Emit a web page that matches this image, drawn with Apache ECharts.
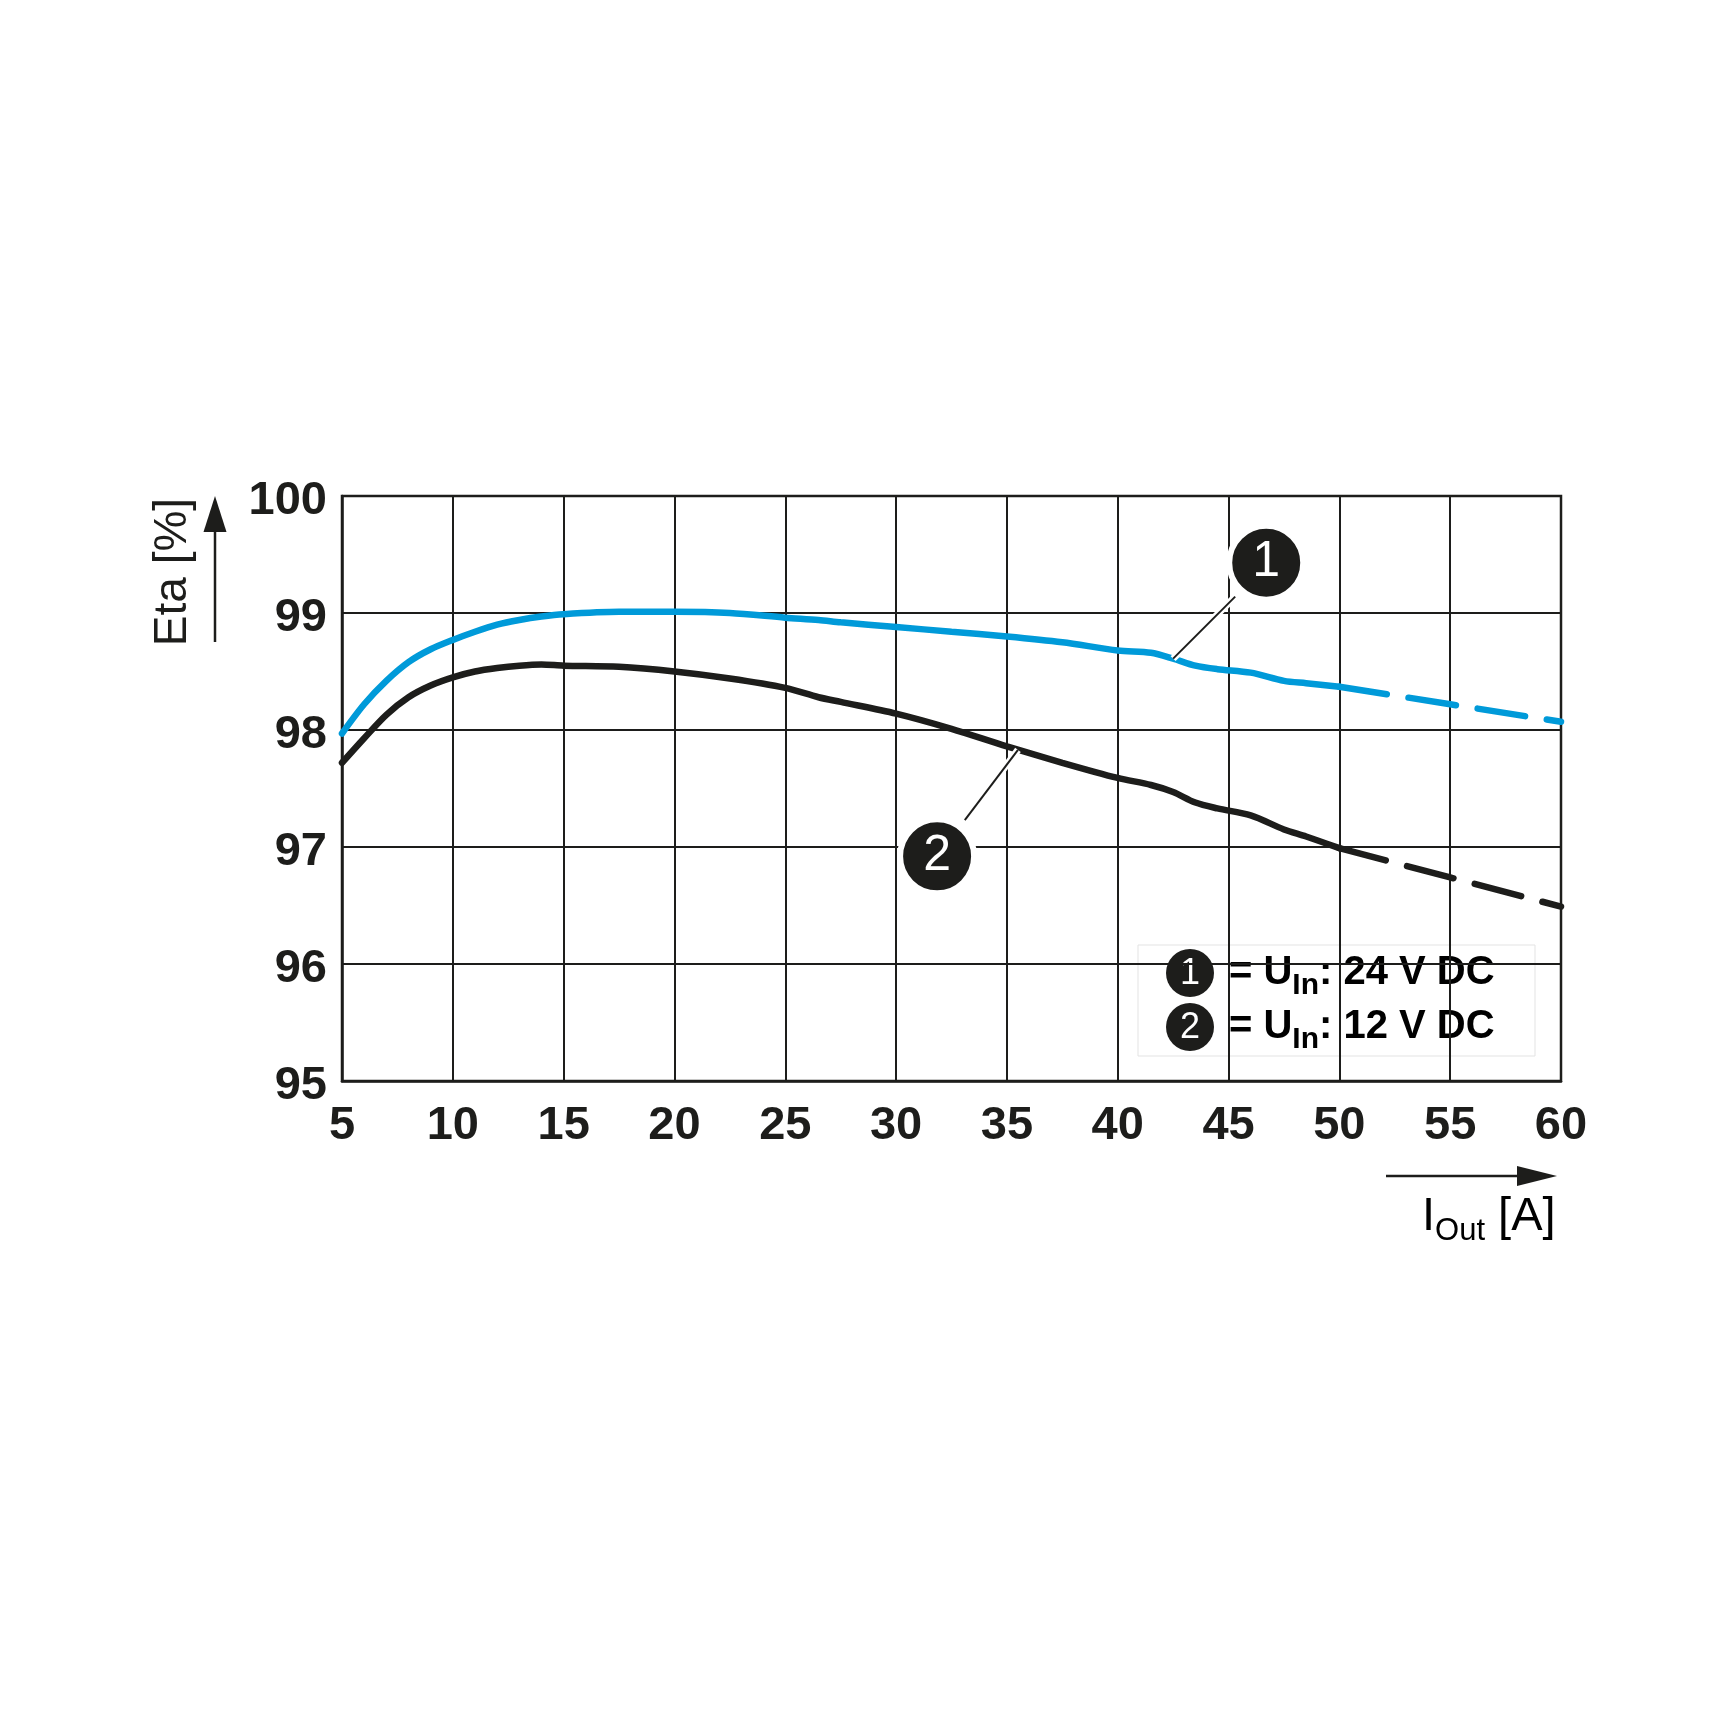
<!DOCTYPE html>
<html>
<head>
<meta charset="utf-8">
<title>Eta vs I_Out</title>
<script src="https://cdn.jsdelivr.net/npm/echarts@6/dist/echarts.min.js"></script>
<style>
  html, body { margin: 0; padding: 0; background: #fff; }
  #eta-chart { width: 1728px; height: 1728px; }
</style>
</head>
<body>
<div id="eta-chart"></div>
<script>
// ==============================================================
// data
// ==============================================================
var currents = [5, 6, 7, 8, 9, 10, 11, 12, 13, 14, 15, 17.5, 20, 22.5, 25, 26.5, 27.5, 30, 32.5, 35, 37.5, 40, 41.5, 42.5, 43.5, 44.5, 46, 47.5, 48.5, 50];
var eta24 = [97.97, 98.22, 98.42, 98.58, 98.69, 98.77, 98.84, 98.90, 98.94, 98.97, 98.99, 99.01, 99.01, 99.00, 98.96, 98.94, 98.92, 98.88, 98.84, 98.80, 98.75, 98.68, 98.66, 98.61, 98.55, 98.52, 98.49, 98.42, 98.40, 98.37];
var eta12 = [97.72, 97.93, 98.13, 98.28, 98.38, 98.45, 98.50, 98.53, 98.55, 98.56, 98.55, 98.54, 98.50, 98.44, 98.36, 98.28, 98.24, 98.14, 98.01, 97.86, 97.72, 97.59, 97.53, 97.47, 97.38, 97.33, 97.27, 97.15, 97.09, 96.99];

// extrapolated part (dashed)
var currentsExt = [50, 55, 60];
var eta24Ext = [98.37, 98.22, 98.07];
var eta12Ext = [96.99, 96.74, 96.49];

var xTicks = [5, 10, 15, 20, 25, 30, 35, 40, 45, 50, 55, 60];
var yTicks = [95, 96, 97, 98, 99, 100];

// callout bubbles and their leader lines (data coords)
var calloutLabels = ['1', '2'];
var calloutX = [46.7, 31.85];
var calloutY = [99.43, 96.92];
var leader1 = [[45.3, 99.14], [42.5, 98.61]];
var leader2 = [[33.1, 97.23], [35.5, 97.83]];

var legendTexts = [': 24 V DC', ': 12 V DC'];

function pairs(xs, ys) {
    var out = [];
    for (var i = 0; i < xs.length; i++) out.push([xs[i], ys[i]]);
    return out;
}

var BLUE = '#009ad9';
var INK = '#1d1d1b';
var FONT = '"Liberation Sans", Arial, Helvetica, sans-serif';

var myChart = echarts.init(document.getElementById('eta-chart'));

var subRich = {
    m: { fontFamily: FONT, fontSize: 40, fontWeight: 'bold', color: INK, lineHeight: 40 },
    s: { fontFamily: FONT, fontSize: 30, fontWeight: 'bold', color: INK, lineHeight: 30, padding: [26, 0, 0, 0] }
};

function legendRow(n, y) {
    return [
        { type: 'circle', shape: { cx: 1190, cy: y, r: 24 }, style: { fill: INK } },
        { type: 'text', x: 1190, y: y + 1, style: { text: String(n), fill: '#fff', font: '36px ' + FONT, align: 'center', verticalAlign: 'middle' } },
        { type: 'text', x: 1229, y: y, style: { text: '{m|= U}{s|In}{m|' + legendTexts[n - 1] + '}', rich: subRich, align: 'left', verticalAlign: 'middle' } }
    ];
}

option = {
    animation: false,
    backgroundColor: '#fff',
    grid: {
        left: 342, right: 167, top: 496, bottom: 647,
        show: true, borderColor: INK, borderWidth: 2.5
    },
    xAxis: {
        type: 'value', min: 5, max: 60, interval: 5,
        axisLine: { show: true, lineStyle: { color: INK, width: 2.5 } },
        axisTick: { show: false },
        splitLine: { show: true, lineStyle: { color: INK, width: 2 } },
        axisLabel: {
            margin: 22, color: INK, fontFamily: FONT, fontSize: 47, fontWeight: 'bold',
            formatter: function (v) { return xTicks.indexOf(v) >= 0 ? String(v) : ''; }
        }
    },
    yAxis: {
        type: 'value', min: 95, max: 100, interval: 1,
        axisLine: { show: true, lineStyle: { color: INK, width: 2.5 } },
        axisTick: { show: false },
        splitLine: { show: true, lineStyle: { color: INK, width: 2 } },
        axisLabel: {
            margin: 15,
            formatter: function (v) { return yTicks.indexOf(v) >= 0 ? '{t|' + v + '}' : ''; },
            rich: {
                t: { color: INK, fontFamily: FONT, fontSize: 47, fontWeight: 'bold', lineHeight: 48, padding: [10, 0, 0, 0] }
            }
        }
    },
    series: [
        {
            name: '24 V DC', type: 'line', data: pairs(currents, eta24),
            smooth: 0.3, symbol: 'none', z: 3,
            lineStyle: { color: BLUE, width: 6.5, cap: 'round' }
        },
        {
            name: '24 V DC ext', type: 'line', data: pairs(currentsExt, eta24Ext),
            symbol: 'none', z: 3,
            lineStyle: { color: BLUE, width: 6.5, type: [48, 22], cap: 'round' }
        },
        {
            name: '12 V DC', type: 'line', data: pairs(currents, eta12),
            smooth: 0.3, symbol: 'none', z: 3,
            lineStyle: { color: INK, width: 6.5, cap: 'round' }
        },
        {
            name: '12 V DC ext', type: 'line', data: pairs(currentsExt, eta12Ext),
            symbol: 'none', z: 3,
            lineStyle: { color: INK, width: 6.5, type: [48, 22], cap: 'round' }
        },
        // leader lines: white halo under a thin black stroke
        { type: 'line', data: leader1, symbol: 'none', z: 4, silent: true, lineStyle: { color: '#fff', width: 7 } },
        { type: 'line', data: leader1, symbol: 'none', z: 5, silent: true, lineStyle: { color: INK, width: 2 } },
        { type: 'line', data: leader2, symbol: 'none', z: 4, silent: true, lineStyle: { color: '#fff', width: 7 } },
        { type: 'line', data: leader2, symbol: 'none', z: 5, silent: true, lineStyle: { color: INK, width: 2 } },
        {
            type: 'scatter', z: 6, silent: true,
            data: calloutLabels.map(function (l, i) { return { name: l, value: [calloutX[i], calloutY[i]] }; }),
            symbol: 'circle', symbolSize: 74,
            itemStyle: { color: INK, opacity: 1, borderColor: '#fff', borderWidth: 6 },
            label: {
                show: true, position: 'inside', formatter: '{b}',
                color: '#fff', fontFamily: FONT, fontSize: 50
            }
        }
    ],
    graphic: [
        // y axis name + arrow
        { type: 'text', x: 173, y: 572, rotation: Math.PI / 2, style: { text: 'Eta [%]', font: '46px ' + FONT, fill: INK, align: 'center', verticalAlign: 'middle' } },
        { type: 'line', shape: { x1: 215, y1: 642, x2: 215, y2: 520 }, style: { stroke: INK, lineWidth: 2.5 } },
        { type: 'polygon', shape: { points: [[215, 496], [203.5, 532], [226.5, 532]] }, style: { fill: INK } },
        // x axis name + arrow
        { type: 'line', shape: { x1: 1386, y1: 1176, x2: 1530, y2: 1176 }, style: { stroke: INK, lineWidth: 2.5 } },
        { type: 'polygon', shape: { points: [[1557, 1176], [1517, 1166], [1517, 1186]] }, style: { fill: INK } },
        {
            type: 'text', x: 1422, y: 1217,
            style: {
                text: '{m|I}{s|Out}{m| [A]}', align: 'left', verticalAlign: 'middle',
                rich: {
                    m: { fontFamily: FONT, fontSize: 47, color: INK, lineHeight: 48 },
                    s: { fontFamily: FONT, fontSize: 31, color: INK, lineHeight: 31, padding: [28, 0, 0, 0] }
                }
            }
        },
        // legend box
        {
            type: 'group', z: 100,
            children: [
                { type: 'rect', shape: { x: 1138, y: 945, width: 397, height: 111 }, style: { fill: '#fff', stroke: '#e3e3e3', lineWidth: 1 } }
            ].concat(legendRow(1, 973), legendRow(2, 1027))
        }
    ]
};

// use configuration item and data specified to show chart
myChart.setOption(option, true);
</script>
</body>
</html>
